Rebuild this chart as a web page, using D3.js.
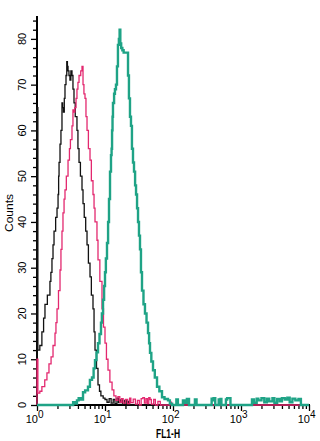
<!DOCTYPE html>
<html>
<head>
<meta charset="utf-8">
<script src="https://cdn.jsdelivr.net/npm/d3@7"></script>
<style>
  body { margin: 0; background: #fff; }
  svg { display: block; font-family: "Liberation Sans", Arial, sans-serif; }
</style>
</head>
<body>
<svg id="chart" width="320" height="441"></svg>
<script>
// FL1-H value, count
const blackTrace = [
  [1,0],[1,65],[1.03,12],[1.1,13],[1.18,16],[1.25,19],[1.31,22],[1.42,24],[1.55,27],[1.6,29],[1.66,32],
  [1.72,35],[1.78,38],[1.88,41],[1.97,43],[2.04,46],[2.08,50],[2.11,53],[2.18,57],[2.25,60],[2.33,66],
  [2.38,65],[2.45,64],[2.52,67],[2.58,70],[2.67,72],[2.74,75],[2.8,74],[2.86,73],[2.95,72],[3.05,71],
  [3.15,73],[3.27,72],[3.38,69],[3.5,66],[3.65,63],[3.87,60],[4,56],[4.15,53],[4.35,50],[4.59,47],
  [4.75,44],[4.95,41],[5.2,38],[5.44,35],[5.7,31],[6.02,28],[6.3,24],[6.66,21],[6.9,16],[7.13,12],
  [7.5,8],[7.89,4.4],[8.3,3],[8.7,2],[9.4,1.5],[10,1.2],[10.7,0.6],[11.5,1.4],[12.3,0.4],[13.2,1.2],
  [14,0.3],[15,1.5],[15.8,0.5],[16.8,1.1],[18,0.2],[19.5,1],[20.5,0],[22,0.8],[23,0],[10000,0]
];
const pinkTrace = [
  [1,0],[1,10],[1.03,2.6],[1.1,3],[1.18,4],[1.3,5.5],[1.4,7],[1.5,9],[1.61,10.5],[1.72,13],[1.84,15.7],
  [1.9,18],[1.97,21],[2.07,25],[2.18,29.5],[2.25,34],[2.33,38],[2.41,42],[2.5,45],[2.58,47],[2.7,50],
  [2.86,53.5],[3,56],[3.1,58],[3.27,61],[3.38,64.5],[3.5,64],[3.6,65],[3.75,67],[3.87,69],[4,70.5],
  [4.15,72],[4.4,73],[4.59,74],[4.75,70],[4.9,68],[5.08,67],[5.25,63],[5.44,60],[5.7,56],[6.02,53.5],
  [6.3,49],[6.66,46],[6.9,43],[7.13,40],[7.62,36],[7.89,31.7],[8.4,27],[9.03,21],[9.5,17],[10,13.5],
  [10.5,10],[11.07,7.6],[11.8,5],[12.7,3.3],[13.5,2],[14.5,1],[15.5,1.8],[16.5,0.6],[17.5,1.4],[18.5,0.4],
  [20,1.2],[21.5,0.3],[23,1.5],[24,0.5],[26,1.3],[28,0.2],[30,1],[32,0],[34,1.4],[36,1.6],[38,0.4],
  [40,1.4],[42,0.3],[44,1.6],[46,1.2],[48,0.2],[52,1.2],[55,0],[60,0.8],[65,0],[90,0.6],[95,0],[10000,0]
];
const tealTrace = [
  [1,0],[3.2,0],[3.4,0.6],[3.6,0.3],[3.87,1],[4.1,1.5],[4.4,1.2],[4.75,2.8],[5.1,3.2],[5.62,4],[6,5.5],
  [6.44,6],[6.8,8],[7.13,9.8],[7.5,11.5],[7.89,13.5],[8.3,15.5],[8.73,18],[9,20],[9.35,23],[9.7,26],
  [10,29],[10.3,32],[10.7,35.4],[11.1,40],[11.45,45],[11.85,51],[12.25,54.6],[12.5,56],[12.7,60],
  [12.9,63],[13.1,66],[13.6,68],[14,69],[14.5,70],[15,74],[15.5,78.7],[16,80],[16.4,82],[16.8,79],
  [17.3,78],[18,77.5],[18.8,77],[20,77],[21.1,77],[21.8,72],[22.5,67],[23.3,63],[24.1,61],[24.9,56],
  [25.8,53],[26.7,51],[27.7,48],[28.6,46],[29.6,43],[30.6,40],[31.6,37],[32.7,34],[33.8,29],[35,25],
  [36.8,22],[38.7,20],[40.8,18],[42.9,15.7],[44.5,13.5],[45.9,11.4],[48,9.5],[50.8,7.6],[54,6],[58.2,4],
  [63,3],[68.9,1.7],[75,1.3],[84.4,1],[90,0.3],[97,0],[112,1.2],[118,0],[140,1],[150,0.5],[160,1.3],
  [172,0],[210,1.2],[222,0],[370,1.4],[380,1],[395,1.5],[418,0],[470,1.2],[480,0.4],[500,1.3],[515,0],
  [600,1.2],[625,1.5],[700,0],[1450,1.2],[1550,0.5],[1700,1.4],[1800,1],[2000,1.5],[2200,0.6],[2400,1.4],
  [2600,0.8],[2900,1.5],[3100,0.5],[3400,1.3],[3700,0.8],[4000,1.5],[4400,1.2],[4800,1.6],[5200,0.6],
  [5700,1.4],[6300,1],[7000,1.3],[7600,0],[10000,0]
];

const decades = [0, 1, 2, 3, 4];
const yMajor = [0, 10, 20, 30, 40, 50, 60, 70, 80];

const svg = d3.select('#chart');
const x = d3.scaleLog().domain([1, 10000]).range([37, 309]);
const y = d3.scaleLinear().domain([0, 85]).range([405, 16]);

// minor ticks
const xMinor = [];
decades.slice(0, -1).forEach(e => { for (let k = 2; k <= 9; k++) xMinor.push(k * Math.pow(10, e)); });
const yMinor = d3.range(0, 86, 2).filter(v => v % 10 !== 0);

const axisStyle = g => {
  g.select('.domain').remove();
  g.selectAll('line').attr('stroke', '#000').attr('stroke-width', 1.3);
};

svg.append('g').attr('transform', 'translate(0,405)')
  .call(d3.axisBottom(x).tickValues(xMinor).tickSize(4).tickFormat(''))
  .call(axisStyle);
svg.append('g').attr('transform', 'translate(0,405)')
  .call(d3.axisBottom(x).tickValues(decades.map(e => Math.pow(10, e))).tickSize(6).tickFormat(''))
  .call(axisStyle);

svg.append('g').attr('transform', 'translate(37,0)')
  .call(d3.axisLeft(y).tickValues(yMinor).tickSize(4).tickFormat(''))
  .call(axisStyle);
svg.append('g').attr('transform', 'translate(37,0)')
  .call(d3.axisLeft(y).tickValues(yMajor).tickSize(6).tickFormat(''))
  .call(axisStyle);

// axis lines
svg.append('line').attr('x1', 37).attr('x2', 37).attr('y1', y.range()[1]).attr('y2', 406)
  .attr('stroke', '#000').attr('stroke-width', 2);
svg.append('line').attr('x1', 36).attr('x2', 310).attr('y1', 405).attr('y2', 405)
  .attr('stroke', '#000').attr('stroke-width', 2);

// x labels 10^n : "10" ends at the tick, exponent to the right
decades.forEach(e => {
  const t = svg.append('text').attr('y', 423).attr('font-size', 11);
  t.append('tspan').text('10');
  t.append('tspan').attr('font-size', 10).attr('dy', -5).text(e);
  const w10 = t.select('tspan').node().getComputedTextLength();
  t.attr('x', x(Math.pow(10, e)) + 1 - w10);
});

// y labels rotated
yMajor.forEach(v => {
  svg.append('text')
    .attr('transform', `translate(26,${y(v)}) rotate(-90)`)
    .attr('text-anchor', 'middle')
    .attr('font-size', 11)
    .text(v);
});

svg.append('text').attr('transform', 'translate(13,213) rotate(-90)')
  .attr('text-anchor', 'middle').attr('font-size', 11)
  .attr('textLength', 38).attr('lengthAdjust', 'spacingAndGlyphs')
  .text('Counts');
svg.append('text').attr('x', 156).attr('y', 438)
  .attr('font-size', 12).attr('font-weight', 'bold')
  .attr('textLength', 24).attr('lengthAdjust', 'spacingAndGlyphs')
  .text('FL1-H');

// traces
const line = d3.line().x(d => x(d[0])).y(d => y(d[1])).curve(d3.curveStepAfter);
const traces = [
  { data: blackTrace, color: '#111', width: 1.3 },
  { data: pinkTrace, color: '#e3286f', width: 1.3 },
  { data: tealTrace, color: '#1fa386', width: 2.4 }
];
traces.forEach(t => {
  svg.append('path').datum(t.data).attr('d', line)
    .attr('fill', 'none').attr('stroke', t.color).attr('stroke-width', t.width)
    .attr('stroke-linejoin', 'miter');
});
</script>
</body>
</html>
